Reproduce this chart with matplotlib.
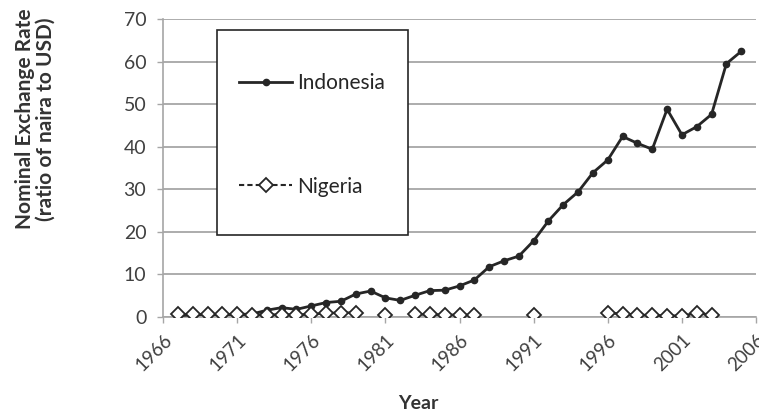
import numpy as np
import matplotlib.pyplot as plt
from matplotlib.patches import Rectangle
from matplotlib.lines import Line2D

plt.rcParams['font.family'] = ['Lato', 'DejaVu Sans']

# data
years = list(range(1967, 2006))
indonesia = [0.3, 0.5, 0.6, 0.6, 0.6, 0.7, 1.6, 2.2, 1.8, 2.6,
             3.4, 3.7, 5.4, 6.1, 4.5, 3.9, 5.1, 6.2, 6.3, 7.3,
             8.7, 11.8, 13.2, 14.3, 17.9, 22.6, 26.4, 29.4, 33.9, 36.9,
             42.4, 40.8, 39.4, 48.8, 42.8, 44.7, 47.6, 59.5, 62.4]
nigeria = [0.6, 0.6, 0.6, 0.6, 0.6, 0.55, 0.55, 0.55, 0.55, 0.6,
           0.9, 1.0, 1.0, np.nan, 0.5, np.nan, 0.6, 0.6, 0.5, 0.5,
           0.5, np.nan, np.nan, np.nan, 0.5, np.nan, np.nan, np.nan, np.nan, 0.9,
           0.8, 0.5, 0.4, 0.3, 0.3, 0.9, 0.5, np.nan, np.nan]
xticks = list(range(1966, 2007, 5))
yticks = list(range(0, 71, 10))

fig = plt.figure(figsize=(7.59, 4.18), dpi=100)
ax = fig.add_axes([0.2148, 0.2416, 0.7813, 0.713])

grid = '#a6a6a6'
dark = '#262626'
ax.plot(years, indonesia, '-o', color=dark, lw=2, ms=4.5, zorder=3)
# connectors between neighbouring diamonds look solid in the chart
ax.plot(years, nigeria, '-D', color=dark, lw=1.8, ms=7, mfc='white', mew=1.3, zorder=4)

ax.set_xlim(1966, 2006)
ax.set_ylim(0, 70)
ax.set_xticks(xticks)
ax.set_yticks(yticks)
ax.set_xticklabels([str(x) for x in xticks], rotation=45, ha='right', rotation_mode='anchor')
ax.tick_params(axis='both', colors=grid, labelcolor='#404040', labelsize=14, length=4, width=1)
ax.tick_params(axis='x', labelsize=13.5, pad=6)
ax.tick_params(axis='y', pad=8)
ax.grid(axis='y', color=grid, lw=1.3)
ax.set_axisbelow(True)
for s in ['top', 'right']:
    ax.spines[s].set_visible(False)
for s in ['left', 'bottom']:
    ax.spines[s].set_color(grid)
    ax.spines[s].set_linewidth(1.2)

# legend box
ax.add_patch(Rectangle((0.091, 0.275), 0.322, 0.688, transform=ax.transAxes,
                       facecolor='white', edgecolor=dark, lw=1.2, zorder=5))
handles = [Line2D([], [], color=dark, lw=2, marker='o', ms=4.5),
           Line2D([], [], color=dark, lw=1.5, ls='--', dashes=(2.5, 1.5), marker='D',
                  ms=7, mfc='white', mew=1.3)]
leg = ax.legend(handles, ['Indonesia', 'Nigeria'], loc='upper left',
                bbox_to_anchor=(0.128, 0.818), fontsize=15,
                frameon=False, labelspacing=4.0, borderpad=0,
                handlelength=2.55, handletextpad=0.25, borderaxespad=0)
leg.set_zorder(6)
for t in leg.get_texts():
    t.set_color(dark)

fig.text(0.047, 0.715, 'Nominal Exchange Rate\n(ratio of naira to USD)', rotation=90,
         ha='center', va='center', fontsize=15, fontweight='bold', color='#333333',
         linespacing=1.05)
fig.text(0.551, 0.034, 'Year', ha='center', va='center', fontsize=14,
         fontweight='bold', color='#333333')

fig.savefig('out.png', dpi=100)
